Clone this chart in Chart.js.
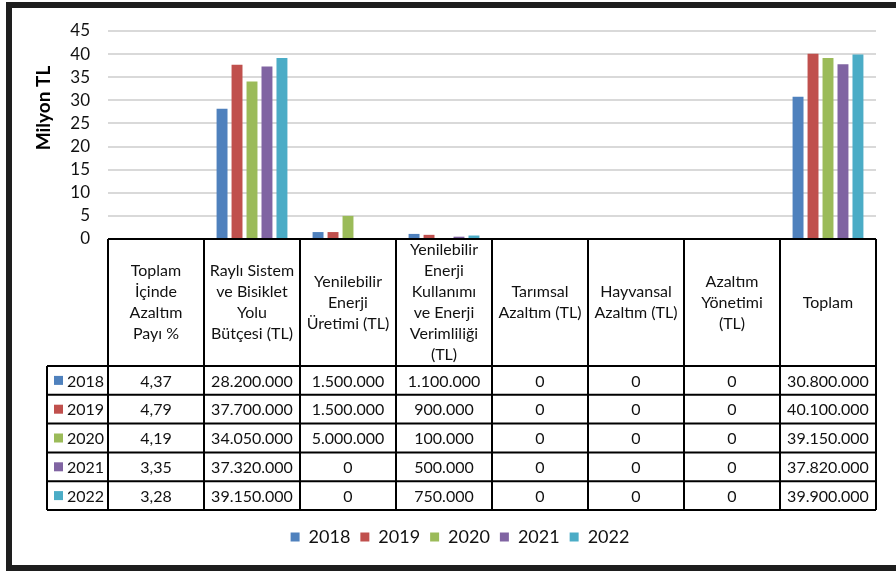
<!DOCTYPE html>
<html>
<head>
<meta charset="utf-8">
<script src="https://cdn.jsdelivr.net/npm/chart.js@4/dist/chart.umd.min.js"></script>
<style>
  html, body { margin: 0; padding: 0; background: #fff; }
  #frame {
    position: absolute; left: 6px; top: 2px; width: 900px; height: 557px;
    border-left: 6px solid #1e1e1e; border-top: 6px solid #1e1e1e; border-bottom: 6px solid #1e1e1e;
  }
  #chart { position: absolute; left: 0; top: 0; }
</style>
</head>
<body>
<div id="frame"></div>
<canvas id="chart" width="896" height="571"></canvas>
<script>
// category headers (one entry per line of text)
const categories = [
    ["Toplam", "İçinde", "Azaltım", "Payı %"],
    ["Raylı Sistem", "ve Bisiklet", "Yolu", "Bütçesi (TL)"],
    ["Yenilebilir", "Enerji", "Üretimi (TL)"],
    ["Yenilebilir", "Enerji", "Kullanımı", "ve Enerji", "Verimliliği", "(TL)"],
    ["Tarımsal", "Azaltım (TL)"],
    ["Hayvansal", "Azaltım (TL)"],
    ["Azaltım", "Yönetimi", "(TL)"],
    ["Toplam"]
];

const years = ["2018", "2019", "2020", "2021", "2022"];
const colors = ["#4F81BD", "#C0504D", "#9BBB59", "#8064A2", "#4BACC6"];

// table values, in TL (first column is a percentage)
const v2018 = [4.37, 28200000, 1500000, 1100000, 0, 0, 0, 30800000];
const v2019 = [4.79, 37700000, 1500000, 900000, 0, 0, 0, 40100000];
const v2020 = [4.19, 34050000, 5000000, 100000, 0, 0, 0, 39150000];
const v2021 = [3.35, 37320000, 0, 500000, 0, 0, 0, 37820000];
const v2022 = [3.28, 39150000, 0, 750000, 0, 0, 0, 39900000];
const seriesValues = [v2018, v2019, v2020, v2021, v2022];

const yTicks = [0, 5, 10, 15, 20, 25, 30, 35, 40, 45];

const FONT = "Lato, 'Open Sans', sans-serif";
const TEXT = "#111";

function fmtVal(v, col) {
    if (col === 0) return v.toFixed(2).replace(".", ",");
    return String(Math.round(v)).replace(/\B(?=(\d{3})+(?!\d))/g, ".");
}

const tablePlugin = {
    id: "dataTable",
    afterDraw(chart) {
        const ctx = chart.ctx;
        const x = chart.scales.x;
        const n = categories.length;
        const colW = x.width / n;
        const top = chart.chartArea.bottom;
        const headerH = 127;
        const rowH = 28.8;
        const legendLeft = 47;
        const headBottom = top + headerH;
        const bottom = headBottom + rowH * years.length;

        ctx.save();
        ctx.strokeStyle = "#000";
        ctx.lineWidth = 2;
        ctx.beginPath();
        ctx.moveTo(x.left, top); ctx.lineTo(x.right, top);
        for (let r = 0; r <= years.length; r++) {
            const y = headBottom + r * rowH;
            ctx.moveTo(legendLeft, y); ctx.lineTo(x.right, y);
        }
        for (let i = 0; i <= n; i++) {
            const cx = x.left + i * colW;
            ctx.moveTo(cx, top); ctx.lineTo(cx, bottom);
        }
        ctx.moveTo(legendLeft, headBottom); ctx.lineTo(legendLeft, bottom);
        ctx.stroke();

        ctx.fillStyle = TEXT;
        ctx.textAlign = "center";
        ctx.textBaseline = "middle";
        ctx.font = "16px " + FONT;
        categories.forEach((lines, i) => {
            const cx = x.getPixelForValue(i);
            const lh = 21;
            const y0 = top + headerH / 2 - (lines.length - 1) * lh / 2;
            lines.forEach((t, k) => ctx.fillText(t, cx, y0 + k * lh));
        });

        ctx.font = "16px " + FONT;
        years.forEach((yr, r) => {
            const cy = headBottom + r * rowH + rowH / 2;
            ctx.fillStyle = colors[r];
            ctx.fillRect(54, cy - 4.5, 9, 9);
            ctx.fillStyle = TEXT;
            ctx.textAlign = "left";
            ctx.fillText(yr, 67, cy + 1);
            ctx.textAlign = "center";
            seriesValues[r].forEach((v, i) => {
                ctx.fillText(fmtVal(v, i), x.getPixelForValue(i), cy + 1);
            });
        });

        // axis title
        ctx.translate(44, 108);
        ctx.rotate(-Math.PI / 2);
        ctx.font = "bold 19px " + FONT;
        ctx.fillStyle = "#000";
        ctx.fillText("Milyon TL", 0, 0);
        ctx.restore();
    }
};

const ctx = document.getElementById("chart").getContext("2d");
new Chart(ctx, {
    type: "bar",
    data: {
        labels: categories,
        datasets: years.map((yr, r) => ({
            label: yr,
            data: seriesValues[r].map(v => v / 1000000),
            backgroundColor: colors[r],
            borderWidth: 0,
            categoryPercentage: 0.78,
            barPercentage: 0.73
        }))
    },
    options: {
        responsive: false,
        devicePixelRatio: 1,
        animation: false,
        layout: { padding: { left: 44, right: 20, top: 31, bottom: 15 } },
        scales: {
            x: {
                grid: { display: false },
                border: { display: false },
                ticks: { display: false },
                afterFit: s => { s.height = 279; }
            },
            y: {
                min: 0,
                max: 45,
                afterBuildTicks: s => { s.ticks = yTicks.map(v => ({ value: v })); },
                afterFit: s => { s.width = 64; },
                grid: { color: "#D9D9D9", lineWidth: 2, drawTicks: false },
                border: { display: false },
                ticks: { autoSkip: false, padding: 18, color: TEXT, font: { family: FONT, size: 17 } }
            }
        },
        plugins: {
            legend: {
                position: "bottom",
                labels: {
                    boxWidth: 9,
                    boxHeight: 9,
                    padding: 10,
                    color: TEXT,
                    font: { family: FONT, size: 18 }
                }
            },
            tooltip: { enabled: false }
        }
    },
    plugins: [tablePlugin]
});
</script>
</body>
</html>
